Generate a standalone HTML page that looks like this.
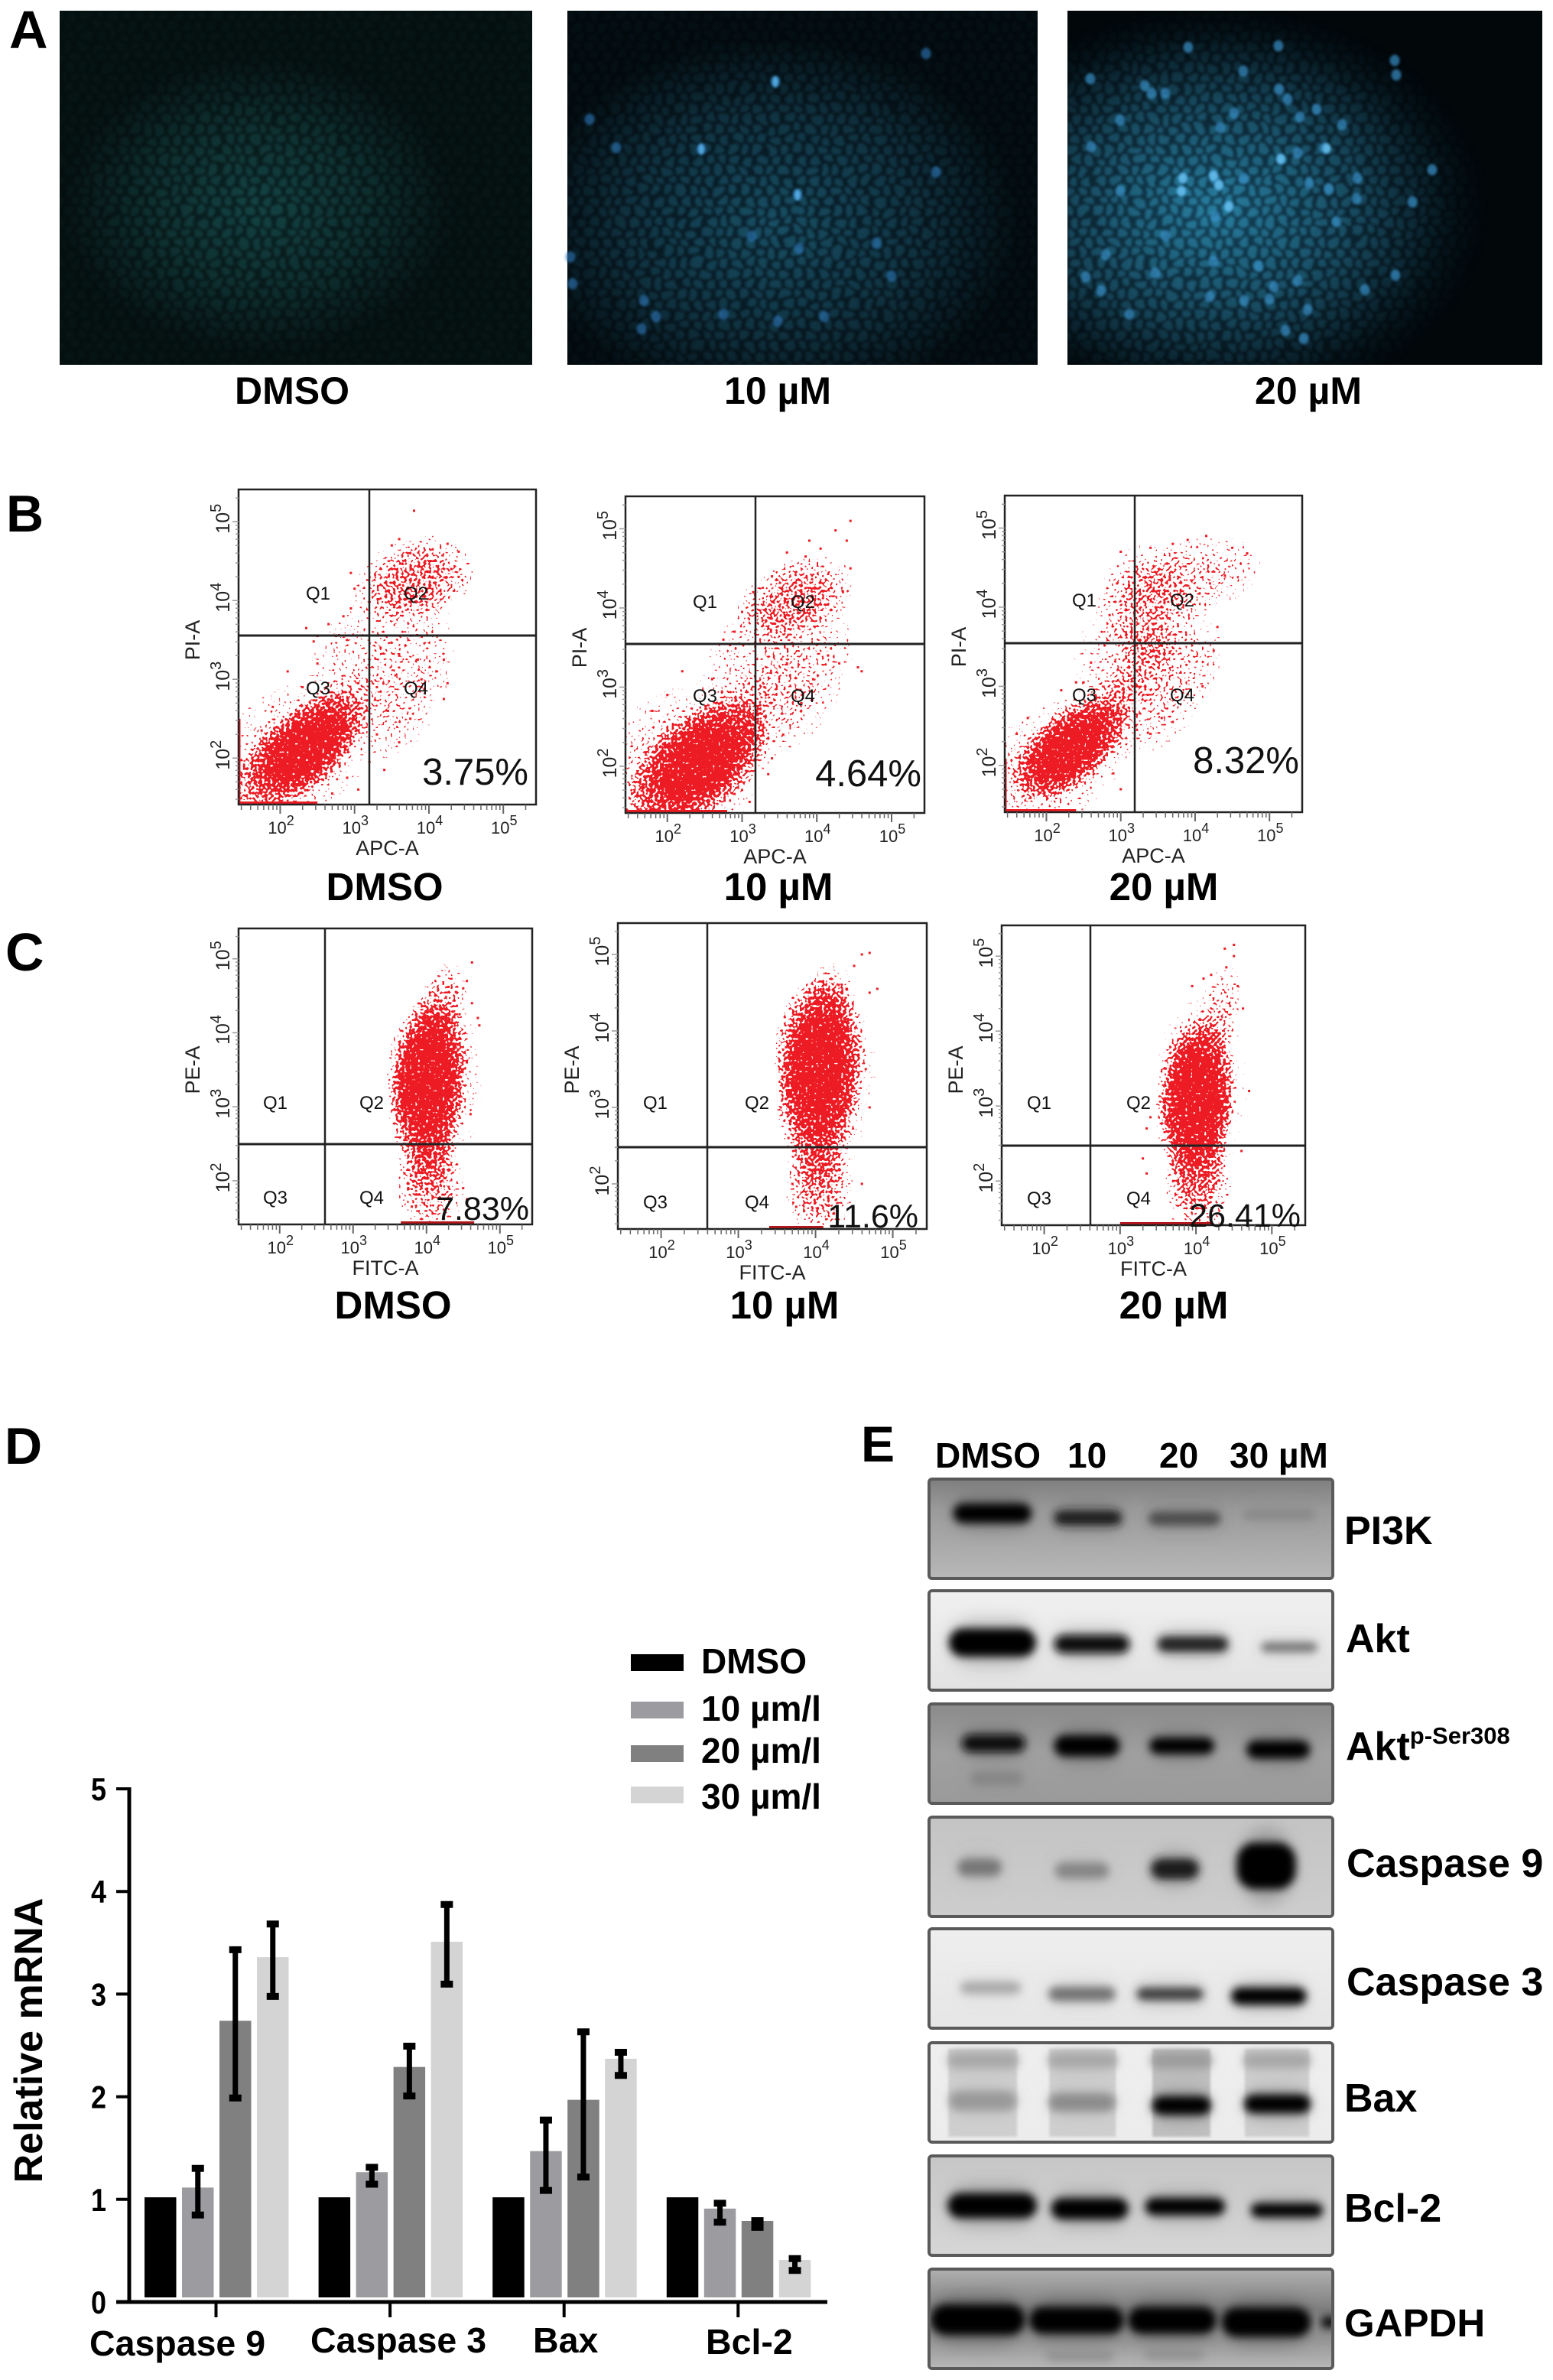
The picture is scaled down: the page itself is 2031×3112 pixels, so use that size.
<!DOCTYPE html>
<html lang="en">
<head>
<meta charset="utf-8">
<title>Multi-panel apoptosis figure</title>
<style>
html,body{margin:0;padding:0;background:#fff}
svg{display:block}
text{font-family:"Liberation Sans",sans-serif}
.b{font-weight:700;fill:#000}
</style>
</head>
<body>
<svg id="fig" xmlns="http://www.w3.org/2000/svg" width="2031" height="3112" viewBox="0 0 2031 3112">
<defs>
  <filter id="stipple" color-interpolation-filters="sRGB" x="-5%" y="-5%" width="110%" height="110%">
    <feTurbulence type="fractalNoise" baseFrequency="0.28" numOctaves="1" seed="7" result="n"/>
    <feColorMatrix in="n" type="matrix" values="0 0 0 0 0  0 0 0 0 0  0 0 0 0 0  0 0 0 2.2 -0.6" result="na"/>
    <feComposite in="SourceGraphic" in2="na" operator="arithmetic" k1="0" k2="1" k3="1" k4="-1" result="c"/>
    <feComponentTransfer in="c" result="t"><feFuncA type="linear" slope="14" intercept="0"/></feComponentTransfer>
    <feFlood flood-color="#ed1c24" result="f"/>
    <feComposite in="f" in2="t" operator="in"/>
  </filter>
  <radialGradient id="cloudFade">
    <stop offset="0" stop-color="#fff" stop-opacity="1"/>
    <stop offset=".45" stop-color="#fff" stop-opacity=".96"/>
    <stop offset=".7" stop-color="#fff" stop-opacity=".6"/>
    <stop offset="1" stop-color="#fff" stop-opacity=".1"/>
  </radialGradient>
  <filter id="bandBlur" x="-30%" y="-100%" width="160%" height="300%"><feGaussianBlur stdDeviation="5.5"/></filter>
  <filter id="haloBlur" x="-30%" y="-100%" width="160%" height="300%"><feGaussianBlur stdDeviation="11"/></filter>
  <filter id="softBlur" x="-30%" y="-30%" width="160%" height="160%"><feGaussianBlur stdDeviation="1.6"/></filter>
  <filter id="cellBlur" x="0" y="0" width="100%" height="100%">
    <feTurbulence type="fractalNoise" baseFrequency="0.035" numOctaves="2" seed="4" result="w"/>
    <feDisplacementMap in="SourceGraphic" in2="w" scale="16" xChannelSelector="R" yChannelSelector="G"/>
    <feGaussianBlur stdDeviation="1.5"/>
  </filter>
  <pattern id="cellsA" width="17" height="27" patternUnits="userSpaceOnUse">
    <ellipse cx="4.25" cy="6.75" rx="7.4" ry="6.2" fill="#1f6263"/><ellipse cx="12.75" cy="20.25" rx="7.4" ry="6.2" fill="#1f6263"/>
  </pattern>
  <pattern id="cellsB" width="17" height="27" patternUnits="userSpaceOnUse">
    <ellipse cx="4.25" cy="6.75" rx="7.4" ry="6.2" fill="#22708a"/><ellipse cx="12.75" cy="20.25" rx="7.4" ry="6.2" fill="#22708a"/>
  </pattern>
  <pattern id="cellsC" width="17" height="27" patternUnits="userSpaceOnUse">
    <ellipse cx="4.25" cy="6.75" rx="7.4" ry="6.2" fill="#2b86a8"/><ellipse cx="12.75" cy="20.25" rx="7.4" ry="6.2" fill="#2b86a8"/>
  </pattern>
  <radialGradient id="glowMaskA" cx=".42" cy=".55" r=".42"><stop offset="0" stop-color="#fff" stop-opacity=".5"/><stop offset=".55" stop-color="#fff" stop-opacity=".3"/><stop offset="1" stop-color="#fff" stop-opacity=".06"/></radialGradient>
  <radialGradient id="glowMaskB" cx=".44" cy=".6" r=".52"><stop offset="0" stop-color="#fff" stop-opacity=".56"/><stop offset=".6" stop-color="#fff" stop-opacity=".3"/><stop offset="1" stop-color="#fff" stop-opacity=".05"/></radialGradient>
  <radialGradient id="glowMaskC" cx=".31" cy=".56" r=".58"><stop offset="0" stop-color="#fff" stop-opacity=".85"/><stop offset=".25" stop-color="#fff" stop-opacity=".6"/><stop offset=".55" stop-color="#fff" stop-opacity=".35"/><stop offset=".85" stop-color="#fff" stop-opacity=".07"/><stop offset="1" stop-color="#fff" stop-opacity="0"/></radialGradient>
  <mask id="mA" maskUnits="userSpaceOnUse" x="0" y="0" width="2031" height="500"><rect x="78" y="14" width="618" height="463" fill="url(#glowMaskA)"/></mask>
  <mask id="mB" maskUnits="userSpaceOnUse" x="0" y="0" width="2031" height="500"><rect x="742" y="14" width="615" height="463" fill="url(#glowMaskB)"/></mask>
  <mask id="mC" maskUnits="userSpaceOnUse" x="0" y="0" width="2031" height="500"><rect x="1396" y="14" width="621" height="463" fill="url(#glowMaskC)"/></mask>
</defs>
<rect width="2031" height="3112" fill="#fff"/>

<!-- Panel A -->
<g>
  <text class="b" x="12" y="63" font-size="70">A</text>
  <g>
    <rect x="78" y="14" width="618" height="463" fill="#050c0c"/>
    <rect x="78" y="14" width="618" height="463" fill="#123c3e" mask="url(#mA)"/>
    <rect x="78" y="14" width="618" height="463" fill="url(#cellsA)" mask="url(#mA)" filter="url(#cellBlur)"/>
  </g>
  <g>
    <rect x="742" y="14" width="615" height="463" fill="#03080b"/>
    <rect x="742" y="14" width="615" height="463" fill="#143f55" mask="url(#mB)"/>
    <rect x="742" y="14" width="615" height="463" fill="url(#cellsB)" mask="url(#mB)" filter="url(#cellBlur)"/>
    <g id="spotsB"></g>
  </g>
  <g>
    <rect x="1396" y="14" width="621" height="463" fill="#02070a"/>
    <rect x="1396" y="14" width="621" height="463" fill="#1b5572" mask="url(#mC)"/>
    <rect x="1396" y="14" width="621" height="463" fill="url(#cellsC)" mask="url(#mC)" filter="url(#cellBlur)"/>
    <g id="spotsC"></g>
  </g>
  <text class="b" x="382" y="528" font-size="50" text-anchor="middle">DMSO</text>
  <text class="b" x="1017" y="528" font-size="50" text-anchor="middle">10 µM</text>
  <text class="b" x="1711" y="528" font-size="50" text-anchor="middle">20 µM</text>
</g>

<!-- Panels B, C -->
<text class="b" x="8" y="695" font-size="68">B</text>
<text class="b" x="7" y="1269" font-size="70">C</text>
<g id="flow"></g>
<text class="b" x="503" y="1177" font-size="51" text-anchor="middle">DMSO</text>
<text class="b" x="1018" y="1177" font-size="51" text-anchor="middle">10 µM</text>
<text class="b" x="1522" y="1177" font-size="51" text-anchor="middle">20 µM</text>
<text class="b" x="514" y="1724" font-size="51" text-anchor="middle">DMSO</text>
<text class="b" x="1026" y="1724" font-size="51" text-anchor="middle">10 µM</text>
<text class="b" x="1535" y="1724" font-size="51" text-anchor="middle">20 µM</text>

<!-- Panel D -->
<text class="b" x="6" y="1914" font-size="68">D</text>
<g id="barChart"></g>
<text class="b" transform="translate(55,2668) rotate(-90)" font-size="52" text-anchor="middle">Relative mRNA</text>
<text class="b" x="117" y="3080" font-size="46.5">Caspase 9</text>
<text class="b" x="406" y="3076" font-size="46.5">Caspase 3</text>
<text class="b" x="697" y="3076" font-size="46.5">Bax</text>
<text class="b" x="923" y="3078" font-size="46.5">Bcl-2</text>
<g>
  <g><rect x="825" y="2163" width="69" height="22" fill="#000"/><text class="b" x="917" y="2188" font-size="46">DMSO</text></g>
  <g><rect x="825" y="2225" width="69" height="22" fill="#9c9ca0"/><text class="b" x="917" y="2250" font-size="46">10 µm/l</text></g>
  <g><rect x="825" y="2282" width="69" height="22" fill="#808080"/><text class="b" x="917" y="2305" font-size="46">20 µm/l</text></g>
  <g><rect x="825" y="2336" width="69" height="22" fill="#d4d4d4"/><text class="b" x="917" y="2365" font-size="46">30 µm/l</text></g>
</g>

<!-- Panel E -->
<text class="b" x="1126" y="1911" font-size="66">E</text>
<text class="b" x="1223" y="1919" font-size="46">DMSO</text>
<text class="b" x="1396" y="1919" font-size="46">10</text>
<text class="b" x="1516" y="1919" font-size="46">20</text>
<text class="b" x="1608" y="1919" font-size="46">30 µM</text>
<g id="blots"></g>
<text class="b" x="1758" y="2019" font-size="52">PI3K</text>
<text class="b" x="1760" y="2160" font-size="52">Akt</text>
<text class="b" x="1760" y="2301" font-size="52">Akt<tspan font-size="31" dy="-21">p-Ser308</tspan></text>
<text class="b" x="1761" y="2454" font-size="52">Caspase 9</text>
<text class="b" x="1761" y="2609" font-size="52">Caspase 3</text>
<text class="b" x="1758" y="2761" font-size="52">Bax</text>
<text class="b" x="1758" y="2905" font-size="52">Bcl-2</text>
<text class="b" x="1758" y="3055" font-size="51">GAPDH</text>

<script>
/* ---------- Panel D data ---------- */
const categories = ['caspase-9','caspase-3','bax','bcl-2'];
const seriesNames = ['dmso','10','20','30'];
const dmsoValues = [1.02,1.02,1.02,1.02];
const um10Values = [1.115,1.265,1.47,0.91];
const um20Values = [2.74,2.29,1.97,0.79];
const um30Values = [3.36,3.51,2.37,0.41];
const um10ErrHigh = [1.31,1.32,1.78,0.97];
const um10ErrLow = [0.84,1.14,1.08,0.77];
const um20ErrHigh = [3.44,2.50,2.64,0.80];
const um20ErrLow = [1.98,2.00,1.21,0.72];
const um30ErrHigh = [3.69,3.88,2.44,0.43];
const um30ErrLow = [2.97,3.09,2.20,0.30];
const yTickLabels = [0,1,2,3,4,5];

/* ---------- Flow cytometry data: log10 intensity (decades) ---------- */
const xTickDecades = [2,3,4,5];
const yTickDecades = [2,3,4,5];

const b1CloudX=[2.3,2.05,2.65,3.8,3.65,3.0];
const b1CloudY=[2.1,1.95,2.5,4.25,3.0,3.3];
const b1Major=[1.02,1.3,.85,.82,1.15,.9];
const b1Minor=[.52,.9,.42,.55,.58,.5];
const b1Tilt=[40,40,40,20,70,60];
const b1Density=[1,.25,.26,.48,.25,.18];
const b1EventX=[3.8,3.6,3.5,4.05,4.25,4.4,3.75,3.95,4.3,4.4,2.95,3.0,2.95,2.85,2.65,2.35,2.5,2.45,2.75,2.9,3.35,3.6,3.85,4.2,4.1,3.9,4.25,4.2,3.9,3.55,3.3,3.45,3.75,3.6,3.3,3.2,3.4,3.15,3.05,2.3,2.1,2.5,1.9,1.75,2.9,3.05,2.7,2.8];
const b1EventY=[5.14,4.78,4.7,4.65,4.72,4.62,4.6,4.5,4.4,4.3,4.35,4.15,3.9,3.8,3.7,3.65,3.55,3.48,3.55,3.5,3.4,3.3,3.25,3.25,3.1,3.0,2.95,2.75,2.9,3.05,2.9,2.6,2.5,2.2,2.3,1.95,1.85,2.6,2.95,2.9,3.1,3.2,2.65,2.35,1.75,1.6,1.55,1.9];
const b1EdgeFrom=[1.44]; const b1EdgeTo=[2.5];

const b2CloudX=[2.43,2.1,2.8,3.7,3.7,3.1];
const b2CloudY=[2.04,1.9,2.5,4.1,3.05,3.3];
const b2Major=[1.08,1.4,.85,.82,1.15,.9];
const b2Minor=[.64,1.0,.46,.5,.6,.55];
const b2Tilt=[40,40,40,25,60,60];
const b2Density=[1,.27,.26,.48,.25,.18];
const b2EventX=[4.45,4.25,4.4,4.05,3.85,3.9,4.45,4.35,3.6,3.4,3.15,3.0,2.9,2.75,4.6,4.55,4.3,4.15,3.95,3.8,3.6,3.3,3.2,3.55,3.4,3.35,3.1,2.6,2.2,2.0,1.8,3.0,3.1,2.9];
const b2EventY=[5.1,4.98,4.85,4.75,4.65,4.85,4.5,4.2,4.7,4.4,4.2,3.95,3.7,3.6,3.2,3.25,3.3,3.4,3.1,2.9,3.3,3.0,2.7,2.4,2.1,1.9,2.2,3.1,3.2,2.9,2.7,1.7,1.55,1.65];
const b2EdgeFrom=[1.44]; const b2EdgeTo=[2.8];

const b3CloudX=[2.3,2.05,2.65,3.35,3.85,3.45,3.05];
const b3CloudY=[2.2,2.0,2.55,4.0,4.35,3.05,3.35];
const b3Major=[.9,1.2,.8,.85,1.05,1.15,.85];
const b3Minor=[.48,.75,.42,.65,.5,.72,.65];
const b3Tilt=[40,38,40,80,15,50,70];
const b3Density=[1,.25,.26,.28,.28,.27,.18];
const b3EventX=[3.0,3.4,3.7,3.9,4.15,4.5,4.7,4.4,4.2,4.3,3.2,2.95,2.85,2.6,2.4,4.25,4.1,3.9,3.55,3.7,3.4,3.2,1.6,1.75,2.2,2.5,2.9,3.0];
const b3EventY=[4.7,4.75,4.8,4.85,4.9,4.75,4.68,4.4,4.3,3.75,4.45,4.3,3.9,3.3,3.05,3.45,3.0,2.9,2.6,2.55,2.4,2.5,2.4,2.6,2.95,3.05,1.9,1.7];
const b3EdgeFrom=[1.44]; const b3EdgeTo=[2.4];

const c1CloudX=[4.03,4.0,4.05,4.2,4.15,4.02];
const c1CloudY=[3.5,3.0,1.95,4.4,3.3,2.4];
const c1Major=[1.02,.85,.68,.6,1.3,.6];
const c1Minor=[.56,.52,.46,.34,.62,.42];
const c1Tilt=[84,90,90,80,88,90];
const c1Density=[1,.72,.42,.32,.16,.32];
const c1EventX=[4.62,4.55,4.5,4.4,4.3,4.45,4.7,4.72,4.62,3.6,3.55,3.65,4.55,4.6,3.7,3.75,3.8,4.5,4.55,3.7];
const c1EventY=[4.95,4.7,4.6,4.55,4.62,4.25,4.2,4.1,4.4,3.4,3.1,2.8,3.6,2.9,2.5,1.9,1.65,1.9,1.75,2.1];
const c1EdgeFrom=[3.65]; const c1EdgeTo=[4.65];

const c2CloudX=[4.06,4.03,4.05,4.18,4.12,4.03];
const c2CloudY=[3.65,3.1,1.95,4.4,3.4,2.4];
const c2Major=[1.05,.88,.66,.5,1.35,.6];
const c2Minor=[.6,.54,.44,.34,.66,.42];
const c2Tilt=[88,90,90,80,88,90];
const c2Density=[1,.72,.42,.32,.16,.32];
const c2EventX=[4.6,4.7,4.5,4.3,4.4,4.7,4.8,3.6,3.55,4.65,4.7,3.65,3.7,4.6,3.75];
const c2EventY=[5.0,5.02,4.85,4.6,4.55,4.5,4.55,3.4,3.0,3.5,3.0,2.6,2.0,2.0,1.7];
const c2EdgeFrom=[3.4]; const c2EdgeTo=[4.1];

const c3CloudX=[4.02,3.98,4.02,4.3,4.05,4.0];
const c3CloudY=[3.25,2.85,1.95,4.2,3.2,2.3];
const c3Major=[.95,.8,.68,.68,1.25,.6];
const c3Minor=[.52,.52,.46,.28,.62,.44];
const c3Tilt=[88,90,90,78,88,90];
const c3Density=[1,.72,.42,.32,.16,.32];
const c3EventX=[4.5,4.38,4.5,4.4,4.2,3.95,4.1,4.55,4.62,4.7,3.4,3.35,3.3,3.35,4.6,3.6,3.7];
const c3EventY=[5.15,5.1,5.0,4.85,4.75,4.6,4.7,4.6,4.3,3.2,2.85,2.7,2.3,2.1,2.4,3.5,2.0];
const c3EdgeFrom=[3.0]; const c3EdgeTo=[4.2];

/* ---------- helpers ---------- */
const NS='http://www.w3.org/2000/svg';
function mk(tag,attrs,parent){
  const el=document.createElementNS(NS,tag);
  for(const k in attrs){el.setAttribute(k,attrs[k]);}
  if(parent){parent.appendChild(el);}
  return el;
}

/* ---------- Panel D ---------- */
(function(){
  const root=document.getElementById('barChart');
  const yScale=v=>3010-v*134.2;
  const groupX=i=>189+i*227.6;
  const barX=(i,j)=>groupX(i)+j*49;
  const barW=41.5;
  const valueSets=[dmsoValues,um10Values,um20Values,um30Values];
  const hiSets=[null,um10ErrHigh,um20ErrHigh,um30ErrHigh];
  const loSets=[null,um10ErrLow,um20ErrLow,um30ErrLow];
  const fills=['#000','#9c9ca0','#808080','#d4d4d4'];
  categories.forEach((c,i)=>{
    valueSets.forEach((vals,j)=>{
      const bar=mk('rect',{x:barX(i,j),y:yScale(vals[i]),width:barW,height:yScale(0)-6-yScale(vals[i]),fill:fills[j]},root);
      
      
    });
  });
  categories.forEach((c,i)=>{
    hiSets.forEach((hi,j)=>{
      if(!hi){return;}
      const cx=barX(i,j)+barW/2;
      const g=mk('g',{stroke:'#000','stroke-width':7,fill:'none'},root);
      
      
      const top=yScale(hi[i]),bot=yScale(loSets[j][i]);
      mk('line',{x1:cx,x2:cx,y1:top,y2:bot},g);
      mk('line',{x1:cx-8,x2:cx+8,y1:top+1,y2:top+1,'stroke-width':9},g);
      mk('line',{x1:cx-8,x2:cx+8,y1:bot-1,y2:bot-1,'stroke-width':9},g);
    });
  });
  const yAxis=mk('line',{x1:169,x2:169,y1:yScale(5)-2,y2:yScale(0)+2,stroke:'#000','stroke-width':5},root);
  
  
  const xAxis=mk('line',{x1:152,x2:1082,y1:yScale(0),y2:yScale(0),stroke:'#000','stroke-width':5},root);
  
  
  yTickLabels.forEach(v=>{
    const tick=mk('line',{x1:152,x2:169,y1:yScale(v),y2:yScale(v),stroke:'#000','stroke-width':4},root);
    
    
    const t=mk('text',{x:139,y:yScale(v)+15,'font-size':42,'text-anchor':'end','class':'b',textLength:20,lengthAdjust:'spacingAndGlyphs'},root);
    t.textContent=String(v);
    
    
  });
  categories.forEach((c,i)=>{
    const cx=groupX(i)+93.5;
    const tick=mk('line',{x1:cx,x2:cx,y1:yScale(0),y2:3030,stroke:'#000','stroke-width':4},root);
    
    
  });
})();

/* ---------- Panels B, C ---------- */
function drawFlow(opt,cloudX,cloudY,major,minor,tilt,density,eventX,eventY,edgeFrom,edgeTo){
  const root=document.getElementById('flow');
  const g=mk('g',{},root);
  
  
  const L=opt.x0,R=opt.x1,T=opt.y0,B=opt.y1;
  const sx=d=>L+(d-1.44)/4*(R-L);
  const sy=d=>B-(d-1.41)/4*(B-T);
  const pxX=(R-L)/4, pxY=(B-T)/4, pxM=(pxX+pxY)/2;
  const clipId='clip-'+opt.name;
  const cp=mk('clipPath',{id:clipId},g);
  mk('rect',{x:L,y:T,width:R-L,height:B-T},cp);
  const clipG=mk('g',{'clip-path':'url(#'+clipId+')'},g);
  const cloudG=mk('g',{filter:'url(#stipple)'},clipG);
  mk('rect',{x:L,y:T,width:R-L,height:B-T,fill:'#fff','fill-opacity':0},cloudG);
  cloudX.forEach((v,i)=>{
    const cx=sx(v),cy=sy(cloudY[i]);
    const e=mk('ellipse',{cx:cx,cy:cy,rx:major[i]*pxM,ry:minor[i]*pxM,fill:'url(#cloudFade)','fill-opacity':density[i],transform:'rotate('+(-tilt[i])+' '+cx+' '+cy+')'},cloudG);
    
    
  });
  eventX.forEach((v,i)=>{
    const p=mk('rect',{x:sx(v)-1.5,y:sy(eventY[i])-1.5,width:3,height:3,fill:'#ed1c24'},clipG);
    
    
  });
  edgeFrom.forEach((v,i)=>{
    const r=mk('rect',{x:Math.max(L,sx(v)),y:B-4,width:sx(edgeTo[i])-Math.max(L,sx(v)),height:4,fill:opt.edgeColor},clipG);
    
    
  });
  if(opt.leftEdge){
    const r=mk('rect',{x:L,y:B-opt.leftEdge,width:2.5,height:opt.leftEdge,fill:'#ed1c24'},clipG);
    
    
  }
  const frame=mk('rect',{x:L,y:T,width:R-L,height:B-T,fill:'none',stroke:'#222','stroke-width':2.5},g);
  
  
  const vg=mk('line',{x1:opt.gateX,x2:opt.gateX,y1:T,y2:B,stroke:'#222','stroke-width':2.5},g);
  
  
  const hg=mk('line',{x1:L,x2:R,y1:opt.gateY,y2:opt.gateY,stroke:'#222','stroke-width':3},g);
  
  

  /* ticks */
  const tickCol='#666';
  for(let d=1;d<=5;d++){
    for(let m=1;m<=9;m++){
      const dv=d+Math.log10(m);
      if(dv<1.46||dv>5.4){continue;}
      const major1=m===1;
      mk('line',{x1:sx(dv),x2:sx(dv),y1:B,y2:B+(major1?12:7),stroke:tickCol,'stroke-width':major1?2:1.5},g);
      mk('line',{x1:L,x2:L-(major1?8:4),y1:sy(dv),y2:sy(dv),stroke:'#999','stroke-width':1.5},g);
    }
  }
  xTickDecades.forEach(d=>{
    const t=mk('text',{x:sx(d)+1,y:B+38,'font-size':22,'text-anchor':'middle',fill:'#222'},g);
    t.appendChild(document.createTextNode('10'));
    const s=mk('tspan',{'font-size':18,dy:-11},t);
    s.textContent=String(d);
    
    
  });
  yTickDecades.forEach(d=>{
    const t=mk('text',{transform:'translate('+(L-12)+','+(sy(d)-4)+') rotate(-90)','font-size':25,'text-anchor':'middle',fill:'#222'},g);
    t.appendChild(document.createTextNode('10'));
    const s=mk('tspan',{'font-size':20,dy:-11},t);
    s.textContent=String(d);
    
    
  });
  const xt=mk('text',{x:(L+R)/2,y:B+66,'font-size':27,'text-anchor':'middle',fill:'#222'},g);
  xt.textContent=opt.xTitle;
  
  
  const yt=mk('text',{transform:'translate('+(L-51)+','+opt.yTitleY+') rotate(-90)','font-size':27,'text-anchor':'middle',fill:'#222'},g);
  yt.textContent=opt.yTitle;
  
  
  ['Q1','Q2','Q3','Q4'].forEach((q,i)=>{
    const t=mk('text',{x:opt.qx[i%2],y:opt.qy[i<2?0:1],'font-size':24,'text-anchor':'middle',fill:'#111'},g);
    t.textContent=q;
    
    
  });
  const pct=mk('text',{x:opt.pctX,y:opt.pctY,'font-size':opt.pctSize,'text-anchor':'end',fill:'#111'},g);
  pct.textContent=opt.pct;
  
  
}
drawFlow({name:'flow-b-dmso',x0:312,x1:701,y0:640,y1:1052,gateX:483,gateY:831,xTitle:'APC-A',yTitle:'PI-A',yTitleY:837,qx:[416,544],qy:[784,908],pct:'3.75%',pctX:691,pctY:1026,pctSize:49,edgeColor:'#ed1c24',leftEdge:112},b1CloudX,b1CloudY,b1Major,b1Minor,b1Tilt,b1Density,b1EventX,b1EventY,b1EdgeFrom,b1EdgeTo);
drawFlow({name:'flow-b-10um',x0:818,x1:1209,y0:649,y1:1063,gateX:988,gateY:842,xTitle:'APC-A',yTitle:'PI-A',yTitleY:847,qx:[922,1050],qy:[795,918],pct:'4.64%',pctX:1205,pctY:1028,pctSize:49,edgeColor:'#ed1c24',leftEdge:0},b2CloudX,b2CloudY,b2Major,b2Minor,b2Tilt,b2Density,b2EventX,b2EventY,b2EdgeFrom,b2EdgeTo);
drawFlow({name:'flow-b-20um',x0:1314,x1:1703,y0:648,y1:1062,gateX:1484,gateY:841,xTitle:'APC-A',yTitle:'PI-A',yTitleY:846,qx:[1418,1546],qy:[793,917],pct:'8.32%',pctX:1699,pctY:1011,pctSize:49,edgeColor:'#ed1c24',leftEdge:70},b3CloudX,b3CloudY,b3Major,b3Minor,b3Tilt,b3Density,b3EventX,b3EventY,b3EdgeFrom,b3EdgeTo);
drawFlow({name:'flow-c-dmso',x0:312,x1:696,y0:1214,y1:1601,gateX:425,gateY:1496,xTitle:'FITC-A',yTitle:'PE-A',yTitleY:1399,qx:[360,486],qy:[1450,1574],pct:'7.83%',pctX:692,pctY:1595,pctSize:43,edgeColor:'#b5161c',leftEdge:0},c1CloudX,c1CloudY,c1Major,c1Minor,c1Tilt,c1Density,c1EventX,c1EventY,c1EdgeFrom,c1EdgeTo);
drawFlow({name:'flow-c-10um',x0:808,x1:1212,y0:1207,y1:1607,gateX:925,gateY:1500,xTitle:'FITC-A',yTitle:'PE-A',yTitleY:1399,qx:[857,990],qy:[1450,1580],pct:'11.6%',pctX:1201,pctY:1605,pctSize:43,edgeColor:'#b5161c',leftEdge:0},c2CloudX,c2CloudY,c2Major,c2Minor,c2Tilt,c2Density,c2EventX,c2EventY,c2EdgeFrom,c2EdgeTo);
drawFlow({name:'flow-c-20um',x0:1310,x1:1707,y0:1210,y1:1602,gateX:1426,gateY:1498,xTitle:'FITC-A',yTitle:'PE-A',yTitleY:1399,qx:[1359,1489],qy:[1450,1575],pct:'26.41%',pctX:1701,pctY:1604,pctSize:43,edgeColor:'#b5161c',leftEdge:0},c3CloudX,c3CloudY,c3Major,c3Minor,c3Tilt,c3Density,c3EventX,c3EventY,c3EdgeFrom,c3EdgeTo);

/* ---------- Panel A bright nuclei ---------- */
const nucleiBX=[1014,917,1043,983,1146,1045,842,858,839,1078,946,1017,746,806,771,1211,1166,749,1224];
const nucleiBY=[107,195,255,309,318,325,393,414,430,414,411,420,336,193,156,70,361,371,225];
const nucleiCX=[1554,1426,1497,1506,1524,1614,1596,1465,1427,1673,1684,1722,1700,1755,1732,1697,1675,1547,1545,1587,1594,1626,1607,1589,1465,1524,1446,1511,1420,1440,1587,1646,1582,1627,1660,1666,1697,1710,1681,1705,1785,1824,1826,1775,1738,1774,1712,1748,1847,1873,1825,1672,1626,1477];
const nucleiCY=[62,103,112,122,122,148,167,157,192,117,130,143,153,163,194,200,208,233,250,230,242,233,270,283,250,308,333,357,362,380,342,348,388,393,391,375,367,405,432,443,379,79,98,233,247,260,240,290,264,222,360,60,93,411];
const hotBX=[917,1014,1043];
const hotBY=[195,107,255];
const hotCX=[1547,1545,1587,1594,1607,1675,1735];
const hotCY=[233,250,230,242,270,208,194];
(function(){
  function spots(id,xs,ys,col,op,rx,ry){
    const g=document.getElementById(id);
    xs.forEach((x,i)=>{
      const s=mk('ellipse',{cx:x,cy:ys[i],rx:rx,ry:ry,fill:col,'fill-opacity':op,filter:'url(#softBlur)'},g);
      
      
    });
  }
  spots('spotsB',nucleiBX,nucleiBY,'#2a78b8',.62,6.5,7.5);
  spots('spotsB',hotBX,hotBY,'#55b0e8',.9,4,7);
  spots('spotsC',nucleiCX,nucleiCY,'#3a92cc',.68,6.5,7.5);
  spots('spotsC',hotCX,hotCY,'#66c0ee',.85,5.5,6.5);
})();

/* ---------- Panel E blots: band = [left, right, centre, height, grey], scan units ---------- */
const pi3kBands=[[175,350,110,50,'#000'],[410,560,125,38,'#1c1c1c'],[630,790,127,34,'#4c4c4c'],[850,1010,113,26,'#888']];
const aktBands=[[165,360,167,72,'#000'],[410,578,172,46,'#080808'],[650,808,172,40,'#222'],[892,1015,182,22,'#6a6a6a']];
const pAktBands=[[195,335,127,44,'#0c0c0c'],[410,555,135,54,'#000'],[632,775,135,42,'#000'],[858,998,147,46,'#000'],[215,330,240,36,'#868686']];
const casp9Bands=[[185,280,162,44,'#777'],[412,530,172,40,'#868686'],[635,740,167,54,'#1c1c1c'],[835,965,157,120,'#000']];
const casp3Bands=[[192,325,190,30,'#a8a8a8'],[397,545,210,36,'#727272'],[602,750,210,32,'#3c3c3c'],[822,990,217,44,'#000']];
const baxBands=[[162,320,57,40,'#a8a8a8'],[395,550,57,40,'#a8a8a8'],[635,770,57,40,'#9c9c9c'],[850,1000,57,40,'#a8a8a8'],[165,315,187,50,'#9a9a9a'],[397,545,192,46,'#8c8c8c'],[638,768,202,48,'#000'],[852,1000,197,48,'#000']];
const bcl2Bands=[[162,362,160,64,'#000'],[403,575,170,54,'#000'],[622,800,163,44,'#000'],[868,1028,175,36,'#000']];
const gapdhBands=[[122,335,163,78,'#000'],[352,565,165,68,'#000'],[582,780,165,68,'#000'],[800,1000,171,74,'#000'],[1032,1060,171,28,'#000'],[392,540,278,22,'#8e8e8e'],[622,750,273,22,'#8e8e8e']];
const baxLaneLeft=[160,395,635,850];
const baxLaneRight=[320,550,770,1000];
const baxLaneGrey=['#cfcfcf','#cfcfcf','#bfbfbf','#cfcfcf'];
(function(){
  const root=document.getElementById('blots');
  const rows=[
    ['pi3k',1934,pi3kBands,[[0,'#7e7e7e'],[.3,'#9a9a9a'],[1,'#b8b8b8']]],
    ['akt',2080,aktBands,[[0,'#f0f0f0'],[.6,'#e8e8e8'],[1,'#e2e2e2']]],
    ['akt-p-ser308',2228,pAktBands,[[0,'#8a8a8a'],[.5,'#a0a0a0'],[1,'#9a9a9a']]],
    ['caspase-9',2376,casp9Bands,[[0,'#c4c4c4'],[1,'#cdcdcd']]],
    ['caspase-3',2522,casp3Bands,[[0,'#eeeeee'],[1,'#e6e6e6']]],
    ['bax',2671,baxBands,[[0,'#efefef'],[1,'#ececec']]],
    ['bcl-2',2819,bcl2Bands,[[0,'#c6c6c6'],[1,'#d6d6d6']]],
    ['gapdh',2967,gapdhBands,[[0,'#b0b0b0'],[.4,'#808080'],[.7,'#949494'],[1,'#b8b8b8']]]
  ];
  const fx=u=>1215+(u-115)*0.5617;
  const defs=document.querySelector('defs');
  rows.forEach(r=>{
    const g=mk('g',{},root);
    
    
    const top=r[1];
    const grad=mk('linearGradient',{id:'bg-'+r[0],x1:0,x2:0,y1:0,y2:1},defs);
    r[3].forEach(s=>{mk('stop',{offset:s[0],'stop-color':s[1]},grad);});
    const clipId='blot-clip-'+r[0];
    const cp=mk('clipPath',{id:clipId},defs);
    mk('rect',{x:1215,y:top,width:528,height:130,rx:4},cp);
    const inner=mk('g',{'clip-path':'url(#'+clipId+')'},g);
    mk('rect',{x:1215,y:top,width:528,height:130,fill:'url(#bg-'+r[0]+')'},inner);
    if(r[0]==='bax'){
      baxLaneLeft.forEach((l,i)=>{
        mk('rect',{x:fx(l),y:top+8,width:fx(baxLaneRight[i])-fx(l),height:115,fill:baxLaneGrey[i],filter:'url(#softBlur)'},inner);
      });
    }
    r[2].forEach(b=>{
      const h=b[3]*0.406;
      const hh=h*1.25;
      mk('rect',{x:fx(b[0]),y:top+b[2]*0.406-h,width:fx(b[1])-fx(b[0]),height:h*2,rx:h,fill:b[4],'fill-opacity':.22,filter:'url(#haloBlur)'},inner);
      const rect=mk('rect',{x:fx(b[0])-2,y:top+b[2]*0.406-hh/2,width:fx(b[1])-fx(b[0])+4,height:hh,rx:Math.min(hh/2,24),fill:b[4],filter:'url(#bandBlur)'},inner);
      
      
    });
    const fr=mk('rect',{x:1215,y:top,width:528,height:130,rx:4,fill:'none',stroke:'#5a5a5a','stroke-width':4},g);
    
    
  });
})();
</script>
</svg>
</body>
</html>
